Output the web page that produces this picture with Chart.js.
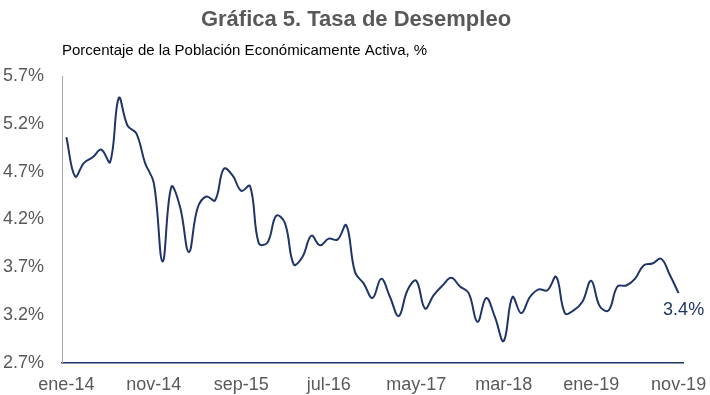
<!DOCTYPE html>
<html>
<head>
<meta charset="utf-8">
<script src="https://cdn.jsdelivr.net/npm/chart.js@4.4.0/dist/chart.umd.min.js"></script>
<style>
  html, body { margin: 0; padding: 0; background: #fff; }
  #wrap { width: 710px; height: 395px; position: relative; }
</style>
</head>
<body>
<div id="wrap"><canvas id="chart"></canvas></div>
<script>
// ene-14 ... nov-19, monthly
const monthNames = ['ene', 'feb', 'mar', 'abr', 'may', 'jun', 'jul', 'ago', 'sep', 'oct', 'nov', 'dic'];
const years = ['14', '15', '16', '17', '18', '19'];
const months = [];
years.forEach(y => monthNames.forEach(m => months.push(m + '-' + y)));
months.pop(); // series ends in nov-19

const desempleo = [
    5.06, 4.65, 4.79, 4.85, 4.93, 4.80, 5.47, 5.18, 5.10, 4.79,
    4.58, 3.76, 4.54, 4.33, 3.86, 4.32, 4.44, 4.40, 4.73, 4.66,
    4.50, 4.55, 3.95, 3.96, 4.24, 4.16, 3.73, 3.81, 4.03, 3.93,
    4.00, 3.99, 4.14, 3.65, 3.53, 3.38, 3.58, 3.39, 3.19, 3.46,
    3.56, 3.27, 3.41, 3.51, 3.59, 3.50, 3.43, 3.13, 3.38, 3.18,
    2.93, 3.39, 3.22, 3.39, 3.47, 3.46, 3.60, 3.22, 3.25, 3.34,
    3.56, 3.29, 3.25, 3.50, 3.51, 3.58, 3.72, 3.74, 3.79, 3.62,
    3.43
];

const yTicks = [2.7, 3.2, 3.7, 4.2, 4.7, 5.2, 5.7];
const lastLabel = '3.4%';

const titleText = 'Gráfica 5. Tasa de Desempleo';
const subtitleText = 'Porcentaje de la Población Económicamente Activa, %';

const navy = '#1f3468';
const grey = '#595959';
const fontFamily = "'Liberation Sans', Arial, sans-serif";

// title, subtitle and the end-of-series label
const textPlugin = {
    id: 'texts',
    afterDraw(chart) {
        const ctx = chart.ctx;
        ctx.save();
        ctx.textBaseline = 'alphabetic';

        ctx.fillStyle = grey;
        ctx.font = 'bold 22px ' + fontFamily;
        ctx.textAlign = 'center';
        ctx.fillText(titleText, 356, 26);

        ctx.fillStyle = '#000';
        ctx.font = '15px ' + fontFamily;
        ctx.textAlign = 'left';
        ctx.fillText(subtitleText, chart.chartArea.left, 55);

        const meta = chart.getDatasetMeta(0);
        const last = meta.data[meta.data.length - 1];
        ctx.fillStyle = navy;
        ctx.font = '18px ' + fontFamily;
        ctx.textAlign = 'center';
        ctx.fillText(lastLabel, last.x + 5, last.y + 22);
        ctx.restore();
    }
};

const ctx = document.getElementById('chart').getContext('2d');
new Chart(ctx, {
    type: 'line',
    data: {
        labels: months,
        datasets: [{
            data: desempleo,
            borderColor: navy,
            borderWidth: 2,
            pointRadius: 0,
            tension: 0.4,
            fill: false
        }]
    },
    options: {
        responsive: true,
        maintainAspectRatio: false,
        animation: false,
        layout: {
            padding: { top: 76, right: 27, bottom: 0, left: 0 }
        },
        plugins: {
            legend: { display: false },
            tooltip: { enabled: false }
        },
        scales: {
            x: {
                type: 'category',
                offset: true,
                grid: { display: false, drawTicks: false },
                border: { display: true, color: navy, width: 1.5 },
                afterFit: function(axis) {
                    axis.height = 32;
                    axis.paddingLeft = 0;
                    axis.paddingRight = 0;
                },
                ticks: {
                    autoSkip: false,
                    maxRotation: 0,
                    padding: 11,
                    color: grey,
                    font: { family: fontFamily, size: 18 },
                    callback: function(value, index) {
                        return index % 10 === 0 ? months[index] : '';
                    }
                }
            },
            y: {
                min: yTicks[0],
                max: yTicks[yTicks.length - 1],
                grid: { display: false, drawTicks: false },
                border: { display: true, color: '#a6a6a6', width: 1 },
                afterBuildTicks: function(axis) {
                    axis.ticks = yTicks.map(v => ({ value: v }));
                },
                afterFit: function(axis) {
                    axis.width = 62;
                },
                ticks: {
                    padding: 18,
                    color: grey,
                    font: { family: fontFamily, size: 18 },
                    callback: function(value) {
                        return value.toFixed(1) + '%';
                    }
                }
            }
        }
    },
    plugins: [textPlugin]
});
</script>
</body>
</html>
